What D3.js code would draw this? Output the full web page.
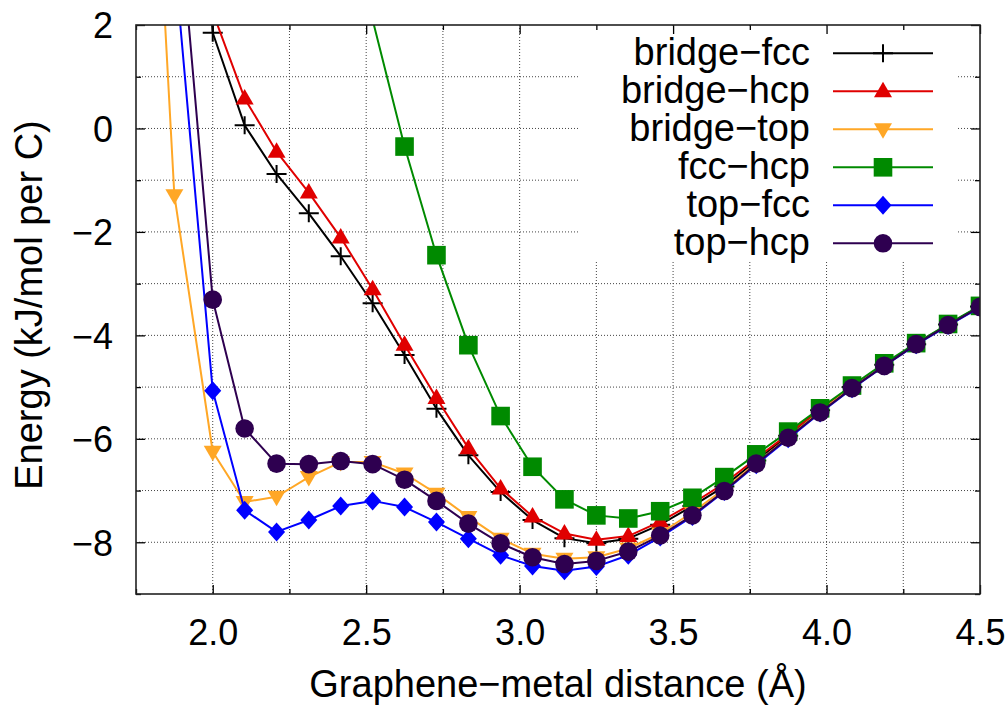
<!DOCTYPE html>
<html>
<head>
<meta charset="utf-8">
<script src="https://cdn.jsdelivr.net/npm/d3@7"></script>
<style>
    body { margin: 0; background: #fff; }
    text { font-family: "Liberation Sans", Arial, sans-serif; fill: #000; }
</style>
</head>
<body>
<svg id="chart" width="1007" height="707"></svg>
<script>
// distances (Å); null where a series has no point
const distances = [1.750, 1.875, 2.000, 2.104, 2.208, 2.313, 2.417, 2.521, 2.625, 2.729, 2.833, 2.938, 3.042,
                   3.146, 3.250, 3.354, 3.458, 3.563, 3.667, 3.771, 3.875, 3.979, 4.083, 4.188, 4.292, 4.396, 4.500];

const bridgeFcc = [null, 12.0, 1.85, 0.06, -0.88, -1.64, -2.47, -3.38, -4.38, -5.42, -6.32, -7.03, -7.57,
                   -7.92, -8.02, -7.93, -7.66, -7.3, -6.92, -6.42, -5.94, -5.45, -5.0, -4.57, -4.17, -3.79, -3.44];
const bridgeHcp = [null, 9.0, 2.25, 0.58, -0.45, -1.24, -2.11, -3.11, -4.18, -5.21, -6.18, -6.96, -7.5,
                   -7.83, -7.95, -7.88, -7.6, -7.25, -6.86, -6.38, -5.91, -5.43, -4.99, -4.56, -4.16, -3.79, -3.44];
const bridgeTop = [12.4, -1.29, -6.25, -7.22, -7.12, -6.74, -6.45, -6.45, -6.67, -7.06, -7.51, -7.93, -8.22,
                   -8.32, -8.29, -8.12, -7.83, -7.42, -6.97, -6.47, -5.97, -5.47, -5.01, -4.57, -4.17, -3.8, -3.45];
const fccHcp    = [null, null, null, null, null, null, 5.0, 2.1, -0.35, -2.45, -4.19, -5.56, -6.54,
                   -7.17, -7.48, -7.54, -7.4, -7.14, -6.74, -6.3, -5.86, -5.41, -4.97, -4.54, -4.15, -3.78, -3.43];
const topFcc    = [null, 3.3, -5.07, -7.38, -7.8, -7.57, -7.3, -7.2, -7.32, -7.61, -7.93, -8.25, -8.46,
                   -8.55, -8.47, -8.25, -7.9, -7.5, -7.02, -6.5, -6.0, -5.5, -5.03, -4.59, -4.18, -3.81, -3.46];
const topHcp    = [null, 5.2, -3.31, -5.8, -6.48, -6.49, -6.43, -6.49, -6.79, -7.2, -7.64, -8.02, -8.29,
                   -8.42, -8.36, -8.18, -7.87, -7.48, -7.01, -6.48, -5.98, -5.49, -5.02, -4.59, -4.17, -3.8, -3.45];

const seriesNames = ['bridge\u2212fcc', 'bridge\u2212hcp', 'bridge\u2212top', 'fcc\u2212hcp', 'top\u2212fcc', 'top\u2212hcp'];
const seriesValues = [bridgeFcc, bridgeHcp, bridgeTop, fccHcp, topFcc, topHcp];

const xMajorTicks = [2.0, 2.5, 3.0, 3.5, 4.0, 4.5];
const xMinorTicks = [1.75, 2.25, 2.75, 3.25, 3.75, 4.25];
const yMajorTicks = [-8, -6, -4, -2, 0, 2];
const yMinorTicks = [-9, -7, -5, -3, -1, 1];

// styles kept apart from the data
const colors = ['#000000', '#e00000', '#ffa726', '#008a00', '#0000ff', '#2e0050'];
const symbols = ['plus', 'triUp', 'triDown', 'square', 'diamond', 'circle'];

let svg = d3.select('#chart');

let plotLeft = 136, plotRight = 980, plotTop = 25, plotBottom = 594;

let x = d3.scaleLinear().domain([1.75, 4.5]).range([plotLeft, plotRight]);
let y = d3.scaleLinear().domain([-9, 2]).range([plotBottom, plotTop]);

// dotted grid
let grid = svg.append('g').attr('id', 'grid')
    .attr('stroke', '#444')
    .attr('stroke-width', 1)
    .attr('stroke-dasharray', '1,2');

grid.selectAll('.vgrid')
    .data(xMajorTicks.concat(xMinorTicks).filter(d => d > 1.75 && d < 4.5))
    .enter()
    .append('line')
    .attr('x1', d => x(d)).attr('x2', d => x(d))
    .attr('y1', plotTop).attr('y2', plotBottom);

grid.selectAll('.hgrid')
    .data(yMajorTicks.concat(yMinorTicks).filter(d => d > -9 && d < 2))
    .enter()
    .append('line')
    .attr('x1', plotLeft).attr('x2', plotRight)
    .attr('y1', d => y(d)).attr('y2', d => y(d));

// key background hides the grid behind it
svg.append('rect')
    .attr('x', 580).attr('y', plotTop + 1)
    .attr('width', 377).attr('height', 236)
    .attr('fill', '#fff');

// series lines and points
let line = d3.line()
    .defined(d => d[1] !== null)
    .x(d => x(d[0]))
    .y(d => y(d[1]));

svg.append('clipPath').attr('id', 'plotClip')
    .append('rect')
    .attr('x', plotLeft).attr('y', plotTop)
    .attr('width', plotRight - plotLeft).attr('height', plotBottom - plotTop);

function drawSymbol(g, kind, color) {
    if (kind === 'plus') {
        g.append('path').attr('d', 'M-10,0H10M0,-9V9')
            .attr('stroke', color).attr('stroke-width', 2).attr('fill', 'none');
    } else if (kind === 'triUp') {
        g.append('path').attr('d', 'M0,-9.5L9,6L-9,6Z').attr('fill', color);
    } else if (kind === 'triDown') {
        g.append('path').attr('d', 'M0,9.5L9,-6L-9,-6Z').attr('fill', color);
    } else if (kind === 'square') {
        g.append('rect').attr('x', -9.3).attr('y', -9.3).attr('width', 18.6).attr('height', 18.6).attr('fill', color);
    } else if (kind === 'diamond') {
        g.append('path').attr('d', 'M0,-9.5L8.5,0L0,9.5L-8.5,0Z').attr('fill', color);
    } else {
        g.append('circle').attr('r', 9.3).attr('fill', color);
    }
}

let plot = svg.append('g').attr('clip-path', 'url(#plotClip)');

seriesValues.forEach((values, i) => {
    let pts = distances.map((d, j) => [d, values[j]]);

    plot.append('path')
        .datum(pts)
        .attr('d', line)
        .attr('fill', 'none')
        .attr('stroke', colors[i])
        .attr('stroke-width', 2)
        .attr('stroke-linejoin', 'round');

    // points are only drawn inside the range, like gnuplot does
    plot.selectAll('.pt' + i)
        .data(pts.filter(p => p[1] !== null && p[1] <= 2 && p[1] >= -9))
        .enter()
        .append('g')
        .attr('class', 'pt' + i)
        .attr('transform', p => `translate(${x(p[0])},${y(p[1])})`)
        .each(function() { drawSymbol(d3.select(this), symbols[i], colors[i]); });
});

// axes: ticks point inward, mirrored on top and right
let fontTicks = '36px';

let xAxis = svg.append('g')
    .attr('transform', `translate(0,${plotBottom})`)
    .call(d3.axisBottom(x).tickValues(xMajorTicks).tickFormat(d3.format('.1f'))
          .tickSize(-9).tickSizeOuter(0).tickPadding(25));
xAxis.selectAll('text').style('font-size', fontTicks);

svg.append('g')
    .attr('transform', `translate(0,${plotBottom})`)
    .call(d3.axisBottom(x).tickValues(xMinorTicks).tickFormat('').tickSize(-5).tickSizeOuter(0));

svg.append('g')
    .attr('transform', `translate(0,${plotTop})`)
    .call(d3.axisTop(x).tickValues(xMajorTicks).tickFormat('').tickSize(-9).tickSizeOuter(0));
svg.append('g')
    .attr('transform', `translate(0,${plotTop})`)
    .call(d3.axisTop(x).tickValues(xMinorTicks).tickFormat('').tickSize(-5).tickSizeOuter(0));

let yAxis = svg.append('g')
    .attr('transform', `translate(${plotLeft},0)`)
    .call(d3.axisLeft(y).tickValues(yMajorTicks).tickSize(-9).tickSizeOuter(0).tickPadding(23));
yAxis.selectAll('text').style('font-size', fontTicks).attr('dy', '0.36em');

svg.append('g')
    .attr('transform', `translate(${plotLeft},0)`)
    .call(d3.axisLeft(y).tickValues(yMinorTicks).tickFormat('').tickSize(-5).tickSizeOuter(0));

svg.append('g')
    .attr('transform', `translate(${plotRight},0)`)
    .call(d3.axisRight(y).tickValues(yMajorTicks).tickFormat('').tickSize(-9).tickSizeOuter(0));
svg.append('g')
    .attr('transform', `translate(${plotRight},0)`)
    .call(d3.axisRight(y).tickValues(yMinorTicks).tickFormat('').tickSize(-5).tickSizeOuter(0));

svg.selectAll('.domain').remove();
svg.selectAll('.tick line').attr('stroke', '#000').attr('stroke-width', 1.3);

// frame
svg.append('rect')
    .attr('x', plotLeft).attr('y', plotTop)
    .attr('width', plotRight - plotLeft).attr('height', plotBottom - plotTop)
    .attr('fill', 'none')
    .attr('stroke', '#222')
    .attr('stroke-width', 1.6);

// axis titles
svg.append('text')
    .attr('x', (plotLeft + plotRight) / 2)
    .attr('y', 697)
    .attr('text-anchor', 'middle')
    .style('font-size', '38px')
    .text('Graphene\u2212metal distance (\u00c5)');

svg.append('text')
    .attr('transform', 'translate(42,305) rotate(-90)')
    .attr('text-anchor', 'middle')
    .style('font-size', '38px')
    .text('Energy (kJ/mol per C)');

// key
let key = svg.append('g').attr('id', 'key');
let keyRows = key.selectAll('g')
    .data(seriesNames)
    .enter()
    .append('g')
    .attr('transform', (d, i) => `translate(0,${53.3 + i * 38})`);

keyRows.append('text')
    .attr('x', 810)
    .attr('y', 12)
    .attr('text-anchor', 'end')
    .style('font-size', '38px')
    .text(d => d);

keyRows.append('line')
    .attr('x1', 833).attr('x2', 933)
    .attr('y1', 0).attr('y2', 0)
    .attr('stroke', (d, i) => colors[i])
    .attr('stroke-width', 2);

keyRows.append('g')
    .attr('transform', 'translate(883,0)')
    .each(function(d, i) { drawSymbol(d3.select(this), symbols[i], colors[i]); });
</script>
</body>
</html>
